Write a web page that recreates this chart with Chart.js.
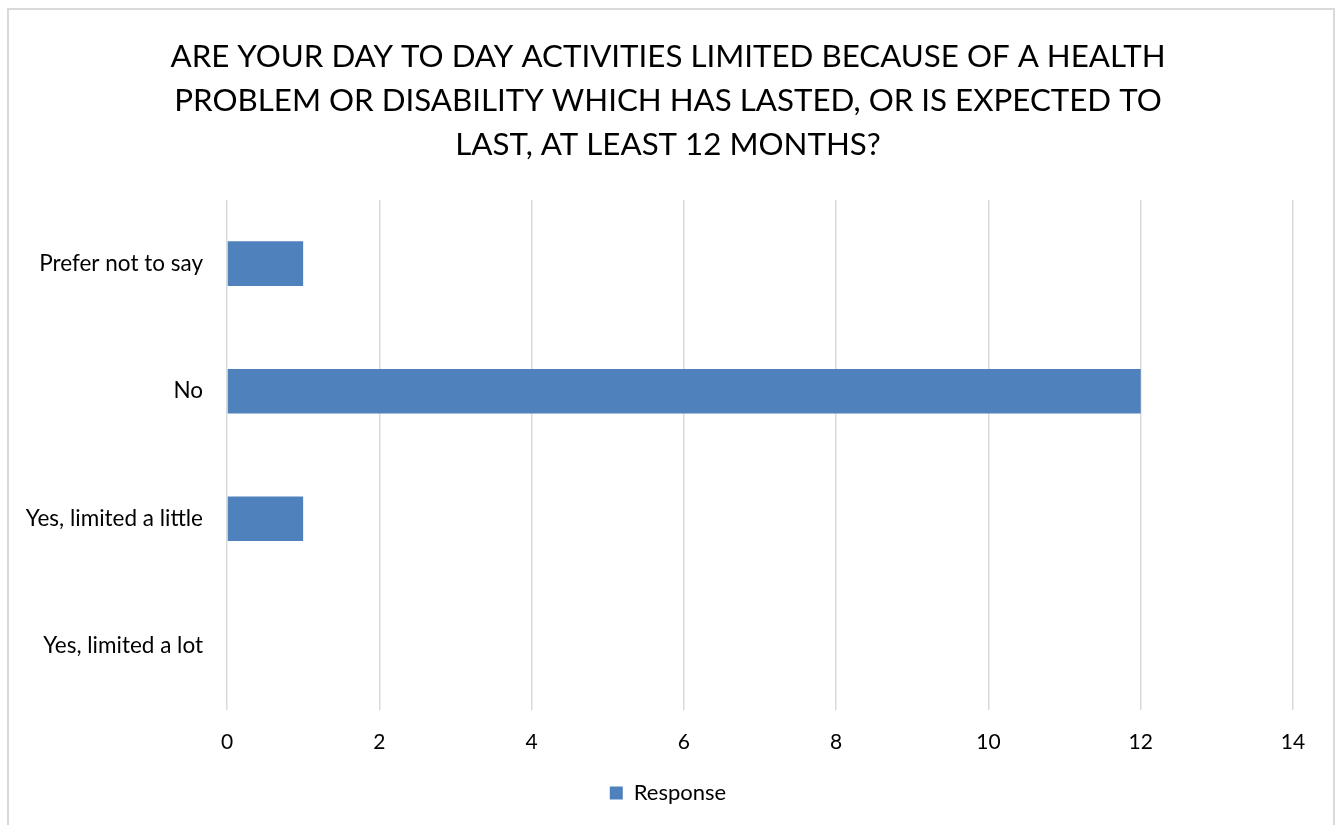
<!DOCTYPE html>
<html>
<head>
<meta charset="utf-8">
<script src="https://cdn.jsdelivr.net/npm/chart.js@4"></script>
<style>
  html, body { margin: 0; padding: 0; background: #fff; overflow: hidden; }
  #wrap { position: absolute; left: 0; top: 0; width: 1336px; height: 825px; }
  #frame {
    position: absolute; left: 7px; top: 8px; width: 1324px; height: 840px;
    border: 2px solid #d9d9d9; pointer-events: none;
  }
</style>
</head>
<body>
<div id="wrap">
  <canvas id="chart" width="1336" height="825"></canvas>
  <div id="frame"></div>
</div>
<script>
/* ── Données ─────────────────────────────────────────── */
const titleLines = [
  'ARE YOUR DAY TO DAY ACTIVITIES LIMITED BECAUSE OF A HEALTH',
  'PROBLEM OR DISABILITY WHICH HAS LASTED, OR IS EXPECTED TO',
  'LAST, AT LEAST 12 MONTHS?'
];
const categories = ['Prefer not to say', 'No', 'Yes, limited a little', 'Yes, limited a lot'];
const responses  = [1, 12, 1, 0];
const seriesName = 'Response';
const xMax  = 14;
const xStep = 2;

const FONT = 'Lato, "Open Sans", sans-serif';

new Chart(document.getElementById('chart'), {
  type: 'bar',
  data: {
    labels: categories,
    datasets: [{
      label: seriesName,
      data: responses,
      backgroundColor: '#4f81bd',
      borderWidth: 0,
      categoryPercentage: 1,
      barPercentage: 0.35,
    }],
  },
  options: {
    indexAxis: 'y',
    responsive: false,
    animation: false,
    layout: { padding: { left: 0, right: 0, top: 0, bottom: 11 } },
    plugins: {
      title: {
        display: true,
        text: titleLines,
        color: '#000',
        font: { family: FONT, size: 31.3, weight: 'normal', lineHeight: 1.405 },
        padding: { top: 35, bottom: 33 },
      },
      legend: {
        position: 'bottom',
        labels: {
          color: '#000',
          font: { family: FONT, size: 22 },
          boxWidth: 13,
          boxHeight: 13,
          padding: 10,
        },
      },
      tooltip: { enabled: false },
    },
    scales: {
      x: {
        min: 0,
        max: xMax,
        ticks: { stepSize: xStep, color: '#000', font: { family: FONT, size: 21 }, padding: 20 },
        grid: { color: '#d9d9d9', lineWidth: 1.5, drawTicks: false },
        border: { display: false },
        afterFit: axis => { axis.height = 62; },
      },
      y: {
        ticks: { color: '#000', font: { family: FONT, size: 22.5 }, padding: 24 },
        grid: { display: false, drawTicks: false },
        border: { display: false },
        afterFit: axis => { axis.width = 227; },
      },
      // axe vide à droite : garde la marge droite sans décentrer le titre
      yRight: {
        type: 'category',
        position: 'right',
        ticks: { display: false },
        grid: { display: false, drawTicks: false },
        border: { display: false },
        afterFit: axis => { axis.width = 43; },
      },
    },
  },
});
</script>
</body>
</html>
